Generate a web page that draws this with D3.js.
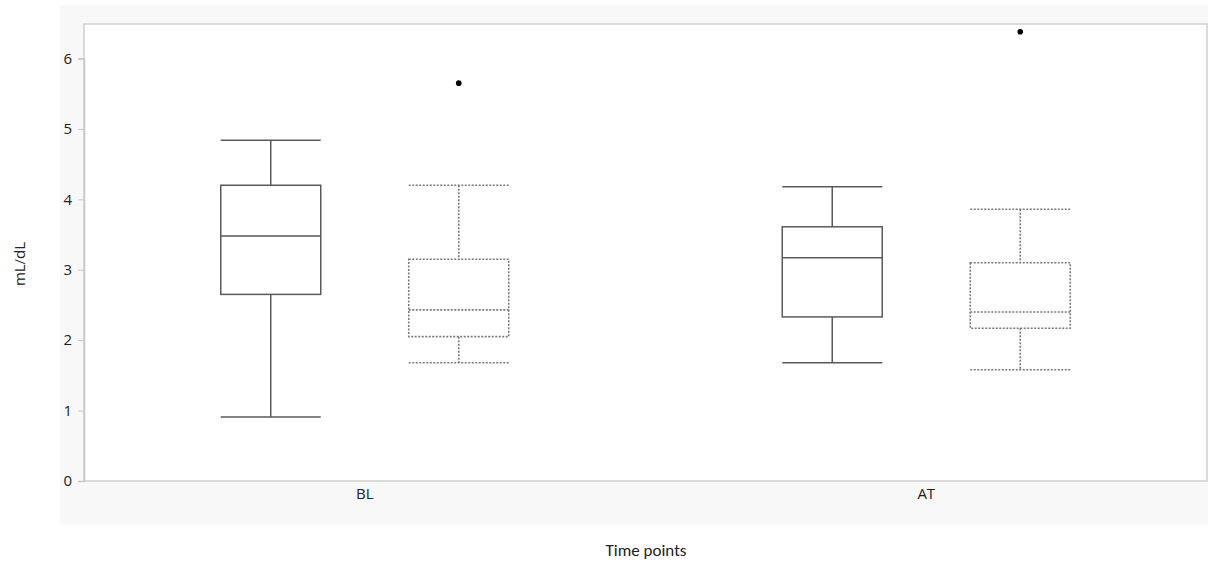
<!DOCTYPE html>
<html>
<head>
<meta charset="utf-8">
<script src="https://cdn.jsdelivr.net/npm/d3@7"></script>
<style>
  body { margin: 0; background: #fff; }
  svg { display: block; }
</style>
</head>
<body>
<div id="chart"></div>
<script>
// Data
const timePoints = ["BL", "AT"];
const groups = ["solid", "dotted"];
// [lowerWhisker, q1, median, q3, upperWhisker]
const blSolid  = [0.91, 2.65, 3.48, 4.20, 4.84];
const blDotted = [1.68, 2.05, 2.43, 3.15, 4.20];
const atSolid  = [1.68, 2.33, 3.17, 3.61, 4.18];
const atDotted = [1.58, 2.17, 2.40, 3.10, 3.86];
const blOutliers = [[], [5.65]];
const atOutliers = [[], [6.38]];
const yTicks = [0, 1, 2, 3, 4, 5, 6];

const boxes = [
    { time: "BL", group: "solid", s: blSolid, out: blOutliers[0] },
    { time: "BL", group: "dotted", s: blDotted, out: blOutliers[1] },
    { time: "AT", group: "solid", s: atSolid, out: atOutliers[0] },
    { time: "AT", group: "dotted", s: atDotted, out: atOutliers[1] }
];

const width = 1208, height = 566;
const margin = { left: 84, right: 1, top: 24, bottom: 85 };

const svg = d3.select("#chart")
    .append("svg")
    .attr("width", width)
    .attr("height", height);

// light grey panel behind the plot
svg.append("rect")
    .attr("x", 60).attr("y", 5)
    .attr("width", width - 60).attr("height", 520)
    .attr("fill", "#f8f8f8");

const x = d3.scaleBand()
    .domain(timePoints)
    .range([margin.left, width - margin.right]);

const xInner = d3.scaleBand()
    .domain(groups)
    .range([-188, 188])
    .paddingInner(0.0)
    .paddingOuter(0);

const y = d3.scaleLinear()
    .domain([0, 6])
    .range([481, 58.5]);

const plotTop = margin.top, plotBottom = 481;

// white plot area with grey frame
svg.append("rect")
    .attr("x", margin.left)
    .attr("y", plotTop)
    .attr("width", width - margin.right - margin.left)
    .attr("height", plotBottom - plotTop)
    .attr("fill", "#fff")
    .attr("stroke", "#cfcfcf")
    .attr("stroke-width", 1.5);

// y axis
const yAxis = svg.append("g")
    .attr("transform", `translate(${margin.left},0)`)
    .call(d3.axisLeft(y).tickValues(yTicks).tickSize(6).tickPadding(6).tickFormat(d3.format("d")));
yAxis.select(".domain").attr("stroke", "#c8c8c8").attr("stroke-width", 1.5);
yAxis.selectAll(".tick line").attr("stroke", "#c8c8c8");
yAxis.selectAll("text")
    .attr("fill", "#222")
    .attr("font-size", "15px")
    .attr("font-family", "'Open Sans', 'Noto Sans', sans-serif");

// x axis labels
const xAxis = svg.append("g")
    .attr("transform", `translate(0,${plotBottom})`)
    .call(d3.axisBottom(x).tickSize(0).tickPadding(7));
xAxis.select(".domain").remove();
xAxis.selectAll("text")
    .attr("fill", "#222")
    .attr("font-size", "15px")
    .attr("font-family", "'Open Sans', 'Noto Sans', sans-serif");

// axis titles
svg.append("text")
    .attr("transform", `translate(25,${264}) rotate(-90)`)
    .attr("text-anchor", "middle")
    .attr("fill", "#222")
    .attr("font-size", "15px")
    .attr("font-family", "'Open Sans', 'Noto Sans', sans-serif")
    .text("mL/dL");

svg.append("text")
    .attr("x", 646)
    .attr("y", 556)
    .attr("text-anchor", "middle")
    .attr("fill", "#222")
    .attr("font-size", "17px")
    .attr("font-family", "Carlito, 'Liberation Sans', 'Noto Sans', sans-serif")
    .text("Time points");

// boxes
const boxW = 100;
boxes.forEach(b => {
    const cx = x(b.time) + x.bandwidth() / 2 + xInner(b.group) + xInner.bandwidth() / 2;
    const dotted = b.group === "dotted";
    const g = svg.append("g")
        .attr("fill", "none")
        .attr("stroke", dotted ? "#7a7a7a" : "#5a5a5a")
        .attr("stroke-width", dotted ? 1.6 : 1.5)
        .attr("stroke-dasharray", dotted ? "2,1.5" : null);
    const [lo, q1, med, q3, hi] = b.s;

    // whiskers
    g.append("line").attr("x1", cx).attr("x2", cx).attr("y1", y(hi)).attr("y2", y(q3));
    g.append("line").attr("x1", cx).attr("x2", cx).attr("y1", y(q1)).attr("y2", y(lo));
    // caps
    [lo, hi].forEach(v => {
        g.append("line")
            .attr("x1", cx - boxW / 2).attr("x2", cx + boxW / 2)
            .attr("y1", y(v)).attr("y2", y(v));
    });
    // box
    g.append("rect")
        .attr("x", cx - boxW / 2)
        .attr("y", y(q3))
        .attr("width", boxW)
        .attr("height", y(q1) - y(q3));
    // median
    g.append("line")
        .attr("x1", cx - boxW / 2).attr("x2", cx + boxW / 2)
        .attr("y1", y(med)).attr("y2", y(med));
    // outliers
    b.out.forEach(v => {
        svg.append("circle")
            .attr("cx", cx)
            .attr("cy", y(v))
            .attr("r", 2.8)
            .attr("fill", "#000");
    });
});
</script>
</body>
</html>
